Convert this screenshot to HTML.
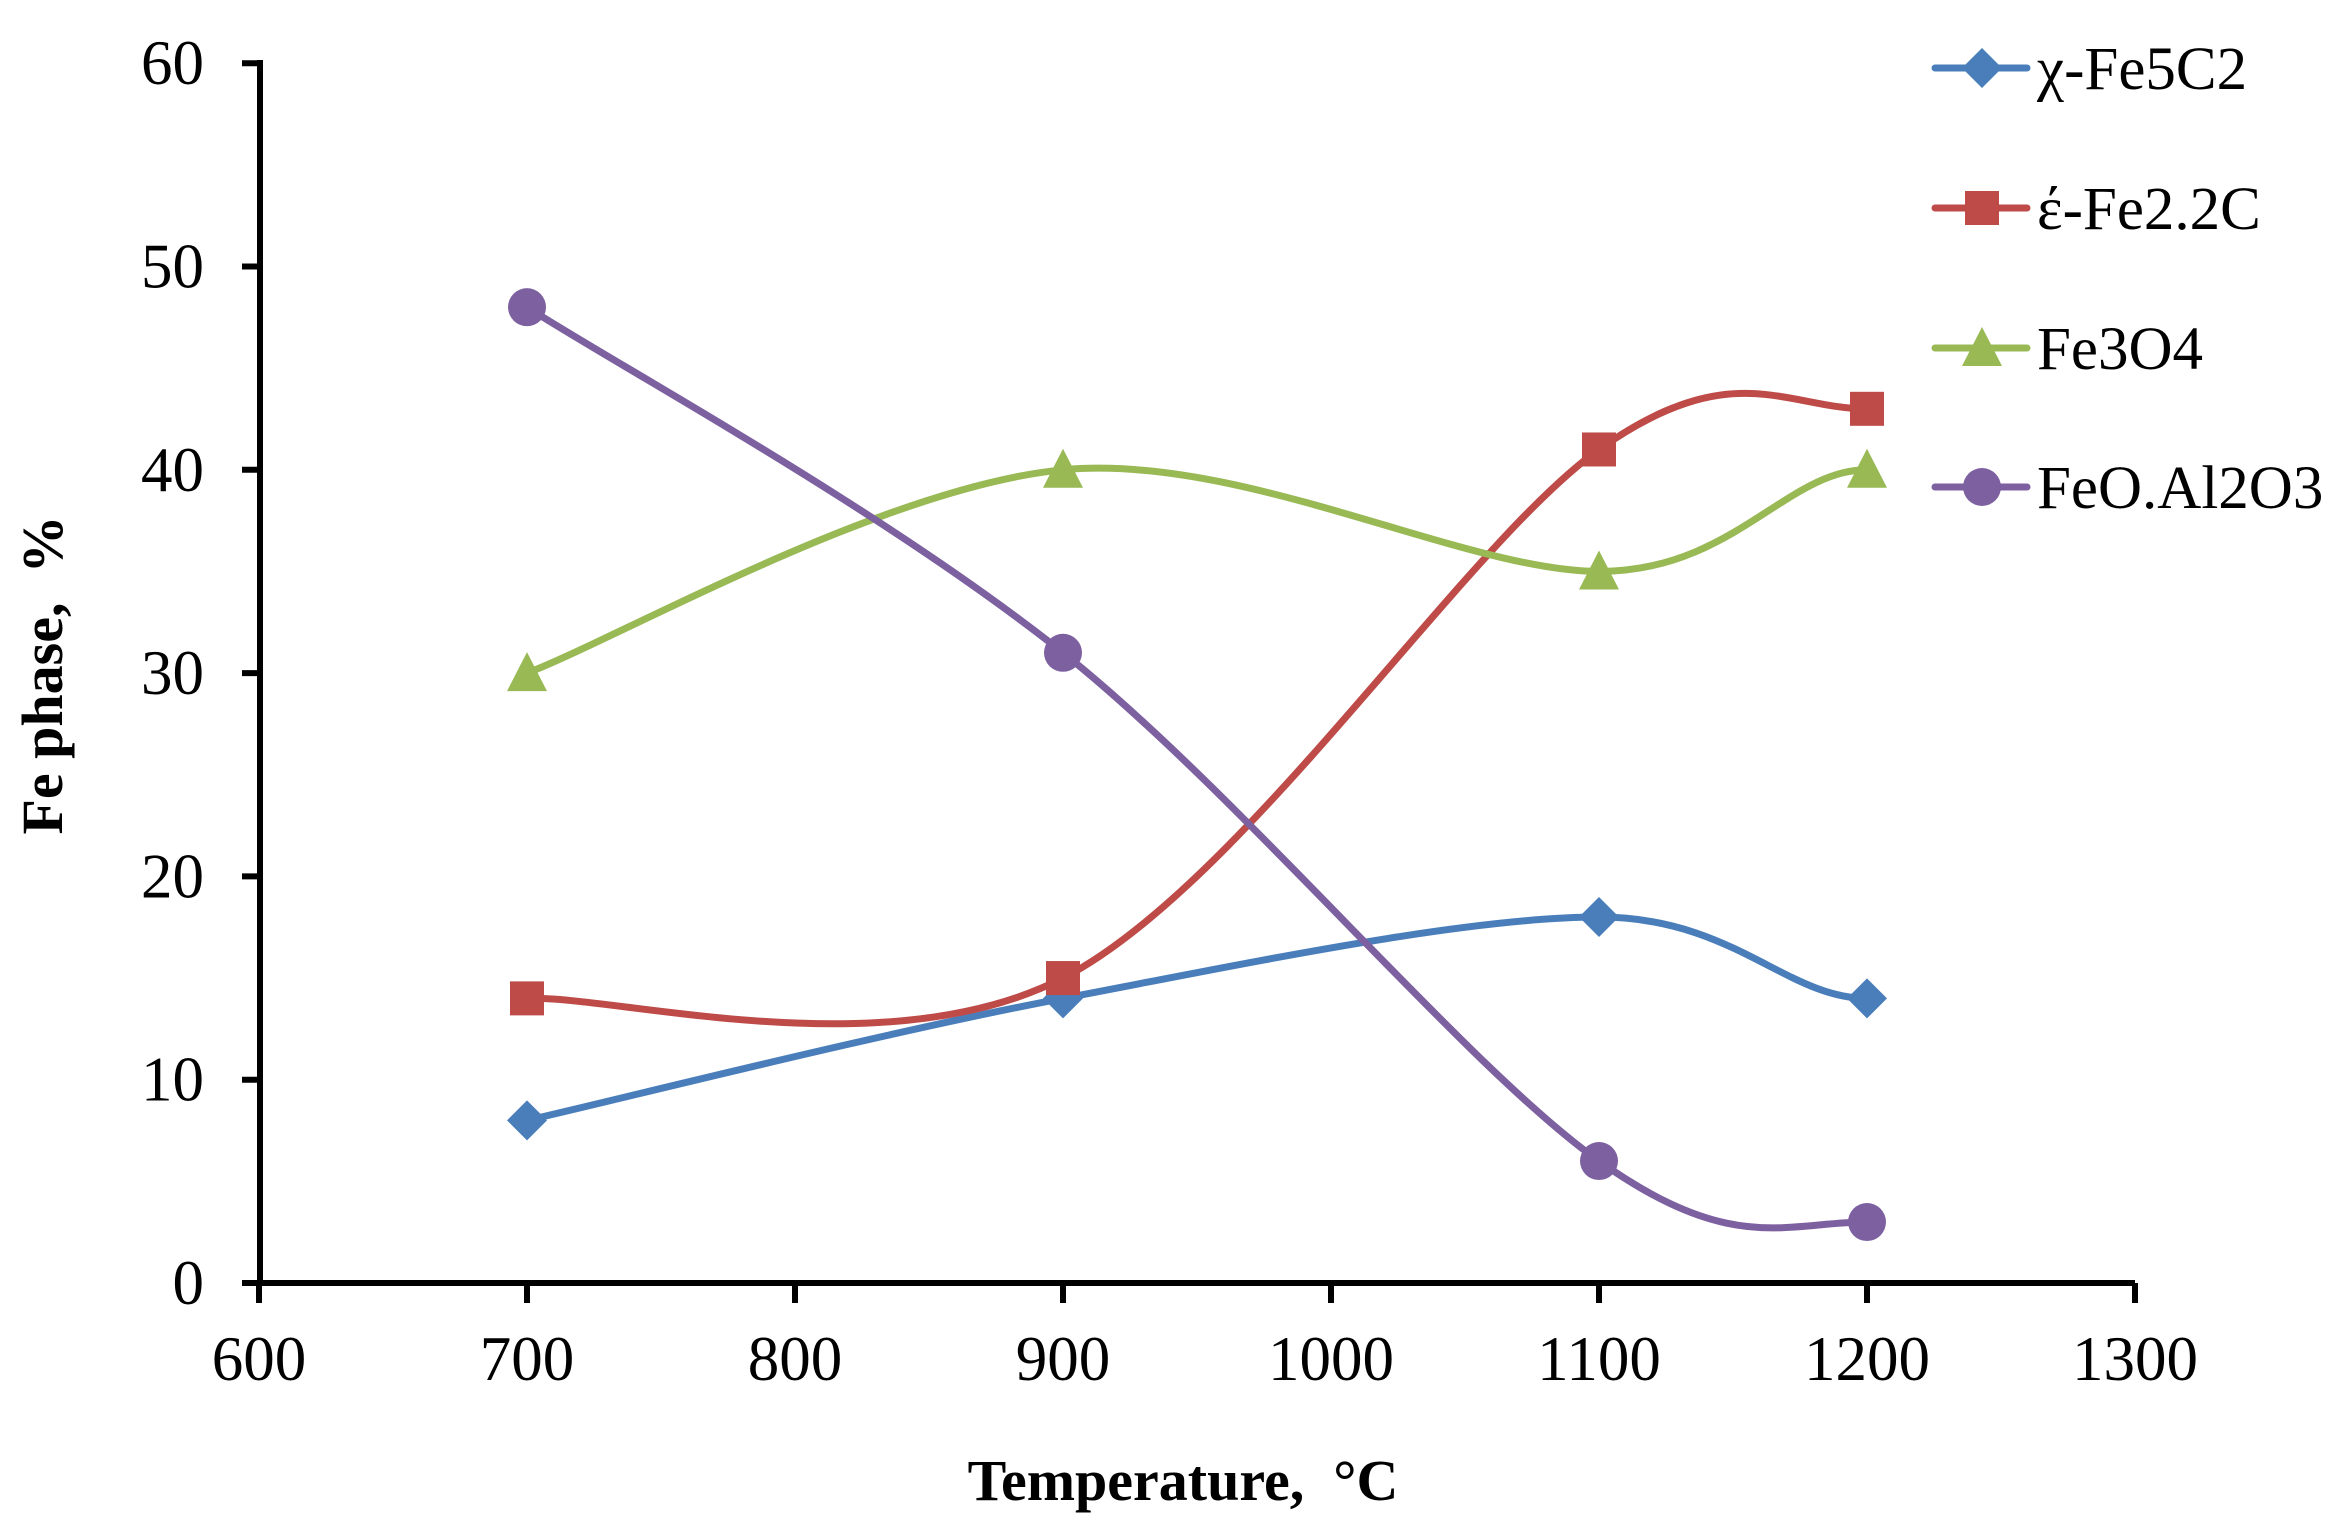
<!DOCTYPE html>
<html><head><meta charset="utf-8"><style>
html,body{margin:0;padding:0;background:#fff;}
svg{display:block;}
text{font-family:"Liberation Serif",serif;fill:#000;white-space:pre;}
</style></head><body>
<svg id="s" width="2348" height="1527" viewBox="0 0 2348 1527" xmlns="http://www.w3.org/2000/svg">
<g stroke="#000" stroke-width="6" fill="none">
<line x1="260" y1="60" x2="260" y2="1286"/>
<line x1="257" y1="1283" x2="2135" y2="1283"/>
</g>
<g id="ticks" stroke="#000" stroke-width="6"></g>
<g id="labels" font-size="63"></g>
<text x="1183" y="1500" font-size="58" font-weight="bold" text-anchor="middle" xml:space="preserve">Temperature,  °C</text>
<text transform="translate(62,675) rotate(-90)" font-size="58" font-weight="bold" text-anchor="middle" xml:space="preserve">Fe phase,  %</text>
<g id="series"></g>
<g id="legend" font-size="61"></g>
</svg>
<script>
const NS="http://www.w3.org/2000/svg";
function el(t,a,p,txt){const e=document.createElementNS(NS,t);for(const k in a)e.setAttribute(k,a[k]);if(txt!=null)e.textContent=txt;p.appendChild(e);return e;}
const X=v=>259+(v-600)*2.68, Y=v=>1283-v*20.33;
const tk=document.getElementById('ticks'),lb=document.getElementById('labels');
for(let v=0;v<=60;v+=10){el('line',{x1:242,y1:Y(v),x2:260,y2:Y(v)},tk);el('text',{x:204,y:Y(v)+21,'text-anchor':'end'},lb,String(v));}
for(let v=600;v<=1300;v+=100){el('line',{x1:X(v),y1:1283,x2:X(v),y2:1303},tk);el('text',{x:X(v),y:1380,'text-anchor':'middle'},lb,String(v));}
const xs=[700,900,1100,1200];
const S=[
{n:'χ-Fe5C2',c:'#4A7EBB',m:'d',d:[8,14,18,14]},
{n:'έ-Fe2.2C',c:'#BE4B48',m:'s',d:[14,15,41,43]},
{n:'Fe3O4',c:'#98B954',m:'t',d:[30,40,35,40]},
{n:'FeO.Al2O3',c:'#7D60A0',m:'c',d:[48,31,6,3]}];
const sg=document.getElementById('series'),lg=document.getElementById('legend');
function marker(m,x,y,c,p){
 if(m==='d')el('polygon',{points:`${x},${y-20} ${x+20},${y} ${x},${y+20} ${x-20},${y}`,fill:c},p);
 else if(m==='s')el('rect',{x:x-17,y:y-17,width:34,height:34,fill:c},p);
 else if(m==='t')el('polygon',{points:`${x},${y-21} ${x+20},${y+18} ${x-20},${y+18}`,fill:c},p);
 else el('circle',{cx:x,cy:y,r:19,fill:c},p);
}
S.forEach((s,i)=>{
 const P=xs.map((x,j)=>[X(x),Y(s.d[j])]);
 let d=`M${P[0][0]},${P[0][1]}`;const t=1/6;
 for(let j=0;j<P.length-1;j++){
  const p0=P[j-1]||P[j],p1=P[j],p2=P[j+1],p3=P[j+2]||P[j+1];
  const c1=[p1[0]+(p2[0]-p0[0])*t,p1[1]+(p2[1]-p0[1])*t];
  let c2=[p2[0]-(p3[0]-p1[0])*t,p2[1]-(p3[1]-p1[1])*t];
  if(j===P.length-2){c2=[p2[0]-(p2[0]-p1[0])*0.3,p2[1]];}
  d+=` C${c1[0]},${c1[1]} ${c2[0]},${c2[1]} ${p2[0]},${p2[1]}`;
 }
 el('path',{d,stroke:s.c,'stroke-width':7,fill:'none','stroke-linecap':'round'},sg);
 P.forEach(p=>marker(s.m,p[0],p[1],s.c,sg));
 const ly=[68,208,348,487][i];
 el('line',{x1:1935,y1:ly,x2:2027,y2:ly,stroke:s.c,'stroke-width':7,'stroke-linecap':'round'},lg);
 marker(s.m,1982,ly,s.c,lg);
 el('text',{x:2037,y:ly+21},lg,s.n);
});
</script>
</body></html>
